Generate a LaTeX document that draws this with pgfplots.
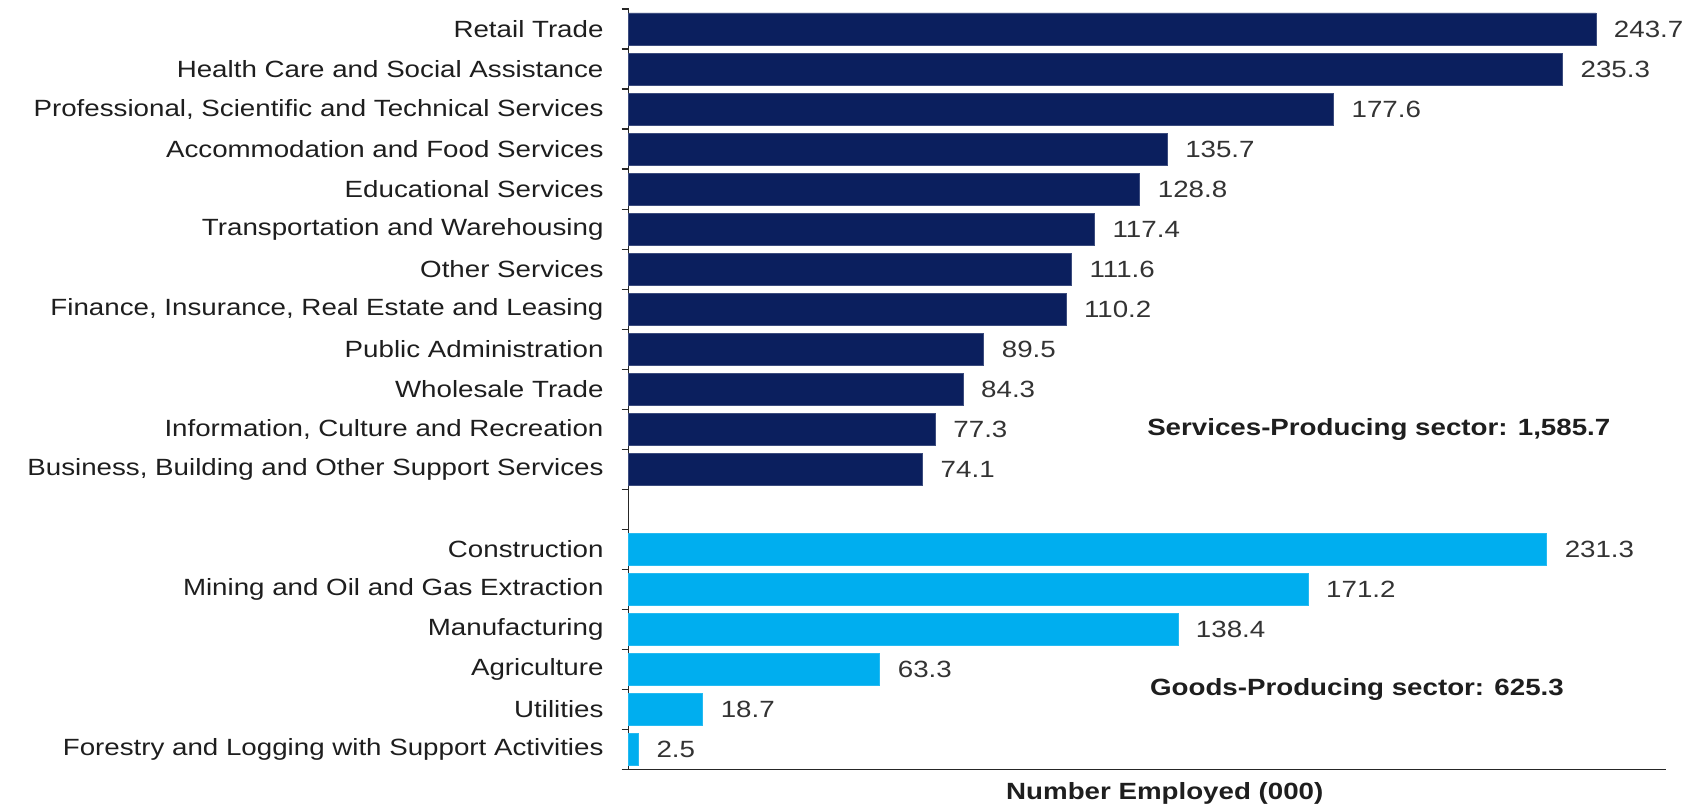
\documentclass[border=0pt]{standalone}
\usepackage{pgfplots}
\pgfplotsset{compat=1.18}
\usepackage{fontspec}
\setmainfont[FakeStretch=1.18]{Liberation Sans}
\definecolor{navy}{HTML}{0B1F5E}
\definecolor{sky}{HTML}{00AEEF}
\definecolor{txt}{HTML}{1E1E1E}
\definecolor{val}{HTML}{333333}
\newcommand{\cf}{\fontsize{11.75pt}{14pt}\selectfont}
\begin{document}
\begin{tikzpicture}
\begin{axis}[
  name=ax,
  at={(0,0)}, anchor=south west,
  scale only axis,
  width=519pt, height=380.5pt,
  xmin=0, xmax=261.3,
  ymin=-0.5, ymax=18.5,
  axis lines*=left,
  axis line style={line width=0.6pt, color=black!85},
  xtick=\empty,
  ytick={0,1,2,3,4,5,7,8,9,10,11,12,13,14,15,16,17,18},
  yticklabels={
    Forestry and Logging with Support Activities,
    Utilities,
    Agriculture,
    Manufacturing,
    Mining and Oil and Gas Extraction,
    Construction,
    {Business, Building and Other Support Services},
    {Information, Culture and Recreation},
    Wholesale Trade,
    Public Administration,
    {Finance, Insurance, Real Estate and Leasing},
    Other Services,
    Transportation and Warehousing,
    Educational Services,
    Accommodation and Food Services,
    {Professional, Scientific and Technical Services},
    Health Care and Social Assistance,
    Retail Trade},
  minor ytick={-0.5,0.5,...,18.5},
  major tick length=0pt,
  minor tick length=3.5pt,
  tick align=outside,
  ytick pos=left,
  minor tick style={line width=0.6pt, color=black!85},
  yticklabel style={font=\cf, text=txt, xshift=-9pt},
  xlabel={\textbf{Number Employed (000)}},
  xlabel style={font=\cf, text=txt, at={(rel axis cs:0.517,0)}, anchor=center, yshift=-12pt},
  xbar, bar width=0.8, bar shift=0pt,
  clip=false,
  point meta=x,
  nodes near coords={\pgfmathprintnumber[fixed,precision=1,fixed zerofill,assume math mode=true]{\pgfplotspointmeta}},
  nodes near coords style={font=\cf, text=val, anchor=west, xshift=5.5pt},
]
\addplot[fill=navy, draw=navy!80!white, line width=0.4pt] coordinates {
  (243.7,18) (235.3,17) (177.6,16) (135.7,15) (128.8,14) (117.4,13)
  (111.6,12) (110.2,11) (89.5,10) (84.3,9) (77.3,8) (74.1,7)
};
\addplot[fill=sky, draw=sky!85!white, line width=0.4pt] coordinates {
  (231.3,5) (171.2,4) (138.4,3) (63.3,2) (18.7,1) (2.5,0)
};
\node[font=\cf\bfseries, text=txt] at (axis cs:189,8) {Services-Producing sector: 1,585.7};
\node[font=\cf\bfseries, text=txt] at (axis cs:183.5,1.5) {Goods-Producing sector: 625.3};
\end{axis}
\path[use as bounding box] ([shift={(-314.5pt,-18.5pt)}]ax.south west) rectangle ([shift={(530.5pt,385pt)}]ax.south west);
\end{tikzpicture}
\end{document}
